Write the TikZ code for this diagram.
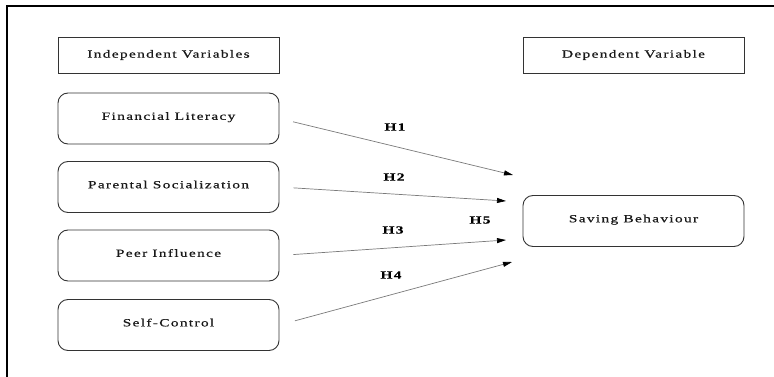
\documentclass[tikz,border=0pt]{standalone}
\usepackage{fontspec}
\setmainfont{Liberation Serif}[FakeStretch=1.4, LetterSpace=12, FakeBold=0.6]
\usetikzlibrary{arrows.meta}
\definecolor{boxline}{HTML}{333333}
\definecolor{linkgray}{HTML}{7A7A7A}

\begin{document}
\begin{tikzpicture}[x=1pt, y=-1pt,
  headbox/.style={draw=boxline, line width=0.9pt,
             minimum height=36pt, minimum width=221pt,
             align=center, text=black!90, font=\fontsize{11}{13}\selectfont},
  varbox/.style={draw=boxline, line width=0.9pt, rounded corners=10pt,
             minimum height=51pt, minimum width=221pt, text depth=5pt,
             align=center, text=black!90, font=\fontsize{11}{13}\selectfont},
  link/.style={linkgray, line width=0.7pt,
             -{Triangle[length=9pt, width=5pt, black]}},
  hyp/.style={font=\fontsize{11}{13}\selectfont\bfseries},
]
\useasboundingbox (0,0) rectangle (774,377);
\draw[line width=1.3pt] (7,377) -- (7,6) -- (774,6);

\node[headbox] (indep) at (168.5, 55)  {Independent Variables};
\node[headbox] (dep)   at (633.5, 55)  {Dependent Variable};

\node[varbox] (fl) at (168.5, 118.5) {Financial Literacy};
\node[varbox] (ps) at (168.5, 187)   {Parental Socialization};
\node[varbox] (pi) at (168.5, 255.5) {Peer Influence};
\node[varbox] (sc) at (168.5, 325)   {Self-Control};
\node[varbox] (sb) at (633.5, 221)   {Saving Behaviour};

% arrow heads stop short of the outcome box
\coordinate (t1) at (513, 175);
\coordinate (t2) at (506, 201);
\coordinate (t3) at (506, 240);
\coordinate (t4) at (512, 262);

\draw[link, shorten <=14pt] (fl.east) -- (t1);
\draw[link, shorten <=14pt] (ps.east) -- (t2);
\draw[link, shorten <=14pt] (pi.east) -- (t3);
\draw[link, shorten <=16pt] (sc.east) -- (t4);

\node[hyp] (h1) at (395, 127) {H1};
\node[hyp] (h2) at (394, 177) {H2};
\node[hyp] (h3) at (393, 230) {H3};
\node[hyp] (h4) at (391, 275) {H4};
\node[hyp] (h5) at (480, 220) {H5};
\end{tikzpicture}
\end{document}
